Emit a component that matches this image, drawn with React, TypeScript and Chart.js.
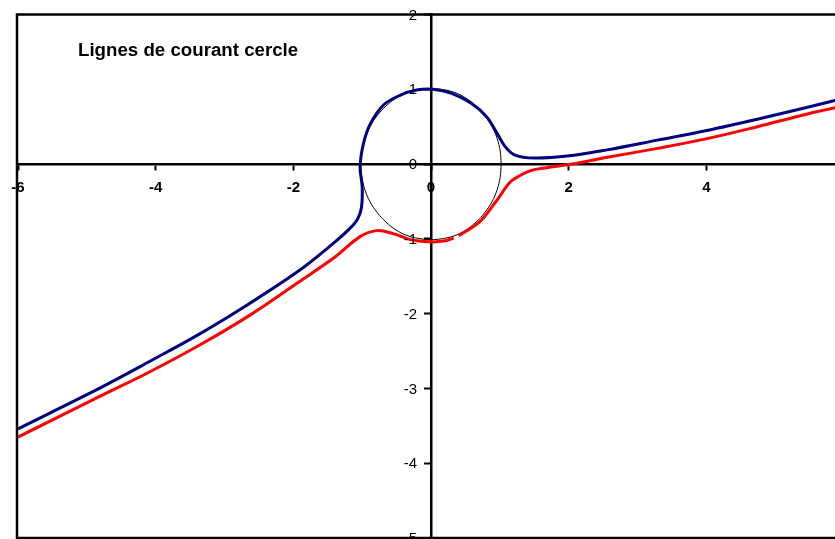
import React, { useEffect, useRef } from "react";
import { Chart, registerables } from "chart.js";

Chart.register(...registerables);

// Streamline passing above the cylinder (x, y)
const upperX = [-6.0, -4.82, -4.09, -3.36, -2.63, -1.91, -1.42, -1.2, -1.07, -1.01, -1.0, -1.03, -0.98, -0.88, -0.69, -0.45, -0.21, 0.03, 0.3, 0.59, 0.81, 0.96, 1.08, 1.22, 1.5, 2.01, 2.56, 3.29, 4.01, 4.74, 5.47, 6.0];
const upperY = [-3.54, -3.0, -2.64, -2.27, -1.86, -1.42, -1.06, -0.88, -0.74, -0.58, -0.3, -0.04, 0.28, 0.54, 0.79, 0.92, 0.99, 1.0, 0.945, 0.81, 0.63, 0.41, 0.23, 0.12, 0.08, 0.11, 0.19, 0.32, 0.45, 0.6, 0.76, 0.88];

// Streamline passing below the cylinder (null marks the break in the line)
const lowerX = [-6.0, -4.82, -4.09, -3.36, -2.63, -1.91, -1.42, -1.03, -0.79, -0.55, -0.3, 0, 0.18, 0.33, 0.37, 0.4, 0.71, 0.96, 1.15, 1.3, 1.44, 1.59, 2.05, 2.56, 3.29, 4.01, 4.74, 5.47, 6.0];
const lowerY: (number | null)[] = [-3.65, -3.11, -2.78, -2.42, -2.02, -1.57, -1.26, -0.97, -0.89, -0.93, -1.01, -1.04, -1.03, -0.99, null, -0.96, -0.77, -0.48, -0.24, -0.15, -0.09, -0.06, 0.0, 0.09, 0.21, 0.34, 0.5, 0.67, 0.78];

// Cylinder outline, every 10 degrees
const circleX = [1.02, 1.005, 0.96, 0.885, 0.78, 0.655, 0.51, 0.35, 0.18, 0, -0.18, -0.35, -0.51, -0.655, -0.78, -0.885, -0.96, -1.005, -1.02, -1.005, -0.96, -0.885, -0.78, -0.655, -0.51, -0.35, -0.18, 0, 0.18, 0.35, 0.51, 0.655, 0.78, 0.885, 0.96, 1.005, 1.02];
const circleY = [0, 0.175, 0.345, 0.505, 0.65, 0.775, 0.88, 0.955, 0.995, 1.01, 0.995, 0.955, 0.88, 0.775, 0.65, 0.505, 0.345, 0.175, 0, -0.175, -0.345, -0.505, -0.65, -0.775, -0.88, -0.955, -0.995, -1.01, -0.995, -0.955, -0.88, -0.775, -0.65, -0.505, -0.345, -0.175, 0];

const xMin = -6;
const xMax = 6;
const xStep = 2;
const yMin = -5;
const yMax = 2;
const yStep = 1;

const chartTitle = "Lignes de courant cercle";

const FONT = "'Liberation Sans', Arial, sans-serif";

const toPoints = (xs: number[], ys: (number | null)[]) =>
  xs.map((x, i) => ({ x, y: ys[i] }));

// Plot-area frame, caption, and the value labels of the vertical axis
const framePlugin = {
  id: "frameAndCaption",
  afterDraw(chart: any) {
    const { ctx, chartArea, scales } = chart;
    ctx.save();
    ctx.strokeStyle = "#000";
    ctx.lineWidth = 2.5;
    ctx.strokeRect(
      chartArea.left - 1,
      chartArea.top,
      chartArea.right - chartArea.left + 1,
      chartArea.bottom - chartArea.top
    );

    ctx.fillStyle = "#000";
    ctx.font = `bold 18.7px ${FONT}`;
    ctx.textBaseline = "alphabetic";
    ctx.textAlign = "left";
    ctx.fillText(chartTitle, chartArea.left + 60, chartArea.top + 41);

    // y labels sit to the left of the axis crossing at x = 0
    const yScale = scales.y;
    const axisX = scales.x.getPixelForValue(0);
    ctx.font = `15px ${FONT}`;
    ctx.textAlign = "right";
    ctx.textBaseline = "middle";
    yScale.ticks.forEach((t: any) => {
      ctx.fillText(String(t.value), axisX - 14, yScale.getPixelForValue(t.value) + 1);
    });
    ctx.restore();
  },
};

export default function App() {
  const canvasRef = useRef<HTMLCanvasElement | null>(null);

  useEffect(() => {
    if (!canvasRef.current) return;
    const chart = new Chart(canvasRef.current, {
      type: "scatter",
      data: {
        datasets: [
          {
            label: "upper",
            data: toPoints(upperX, upperY),
            showLine: true,
            borderColor: "#000080",
            borderWidth: 3,
            pointRadius: 0,
            tension: 0.35,
            fill: false,
            order: 1,
          },
          {
            label: "lower",
            data: toPoints(lowerX, lowerY),
            showLine: true,
            spanGaps: false,
            borderColor: "#ff0000",
            borderWidth: 3,
            pointRadius: 0,
            tension: 0.35,
            fill: false,
            order: 2,
          },
          {
            label: "cercle",
            data: toPoints(circleX, circleY),
            showLine: true,
            borderColor: "#000",
            borderWidth: 1,
            pointRadius: 0,
            tension: 0.4,
            fill: false,
            order: 3,
          },
        ],
      },
      options: {
        responsive: false,
        animation: false,
        layout: { padding: { left: 18, top: 14.5, right: 26, bottom: 32 } },
        plugins: {
          legend: { display: false },
          tooltip: { enabled: false },
          title: { display: false },
        },
        scales: {
          x: {
            type: "linear",
            position: { y: 0 },
            min: xMin,
            max: xMax,
            border: { display: true, color: "#000", width: 2.5 },
            grid: { drawOnChartArea: false, drawTicks: true, tickLength: 5, color: "#000", tickWidth: 2 },
            ticks: {
              stepSize: xStep,
              autoSkip: false,
              maxRotation: 0,
              padding: 10,
              color: "#000",
              font: { family: FONT, size: 15, weight: "bold" },
            },
          },
          y: {
            type: "linear",
            position: { x: 0 },
            min: yMin,
            max: yMax,
            border: { display: true, color: "#000", width: 2.5 },
            grid: { drawOnChartArea: false, drawTicks: true, tickLength: 6, color: "#000", tickWidth: 2 },
            ticks: {
              stepSize: yStep,
              autoSkip: false,
              display: false,
            },
          },
        },
      },
      plugins: [framePlugin],
    });
    return () => chart.destroy();
  }, []);

  return (
    <div
      style={{
        position: "fixed",
        left: 0,
        top: 0,
        width: 835,
        height: 539,
        overflow: "hidden",
        background: "#fff",
      }}
    >
      <canvas ref={canvasRef} width={870} height={570} style={{ display: "block" }} />
    </div>
  );
}
